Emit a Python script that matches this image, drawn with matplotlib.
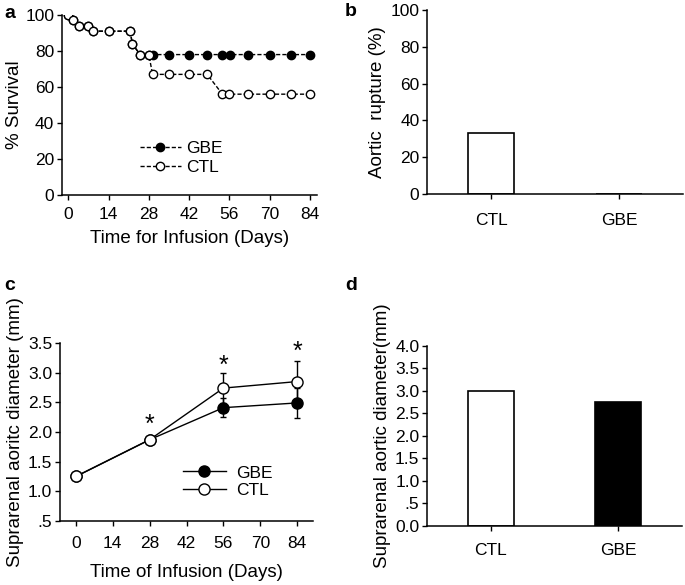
import matplotlib
matplotlib.use("Agg")
import matplotlib.pyplot as plt
from matplotlib.lines import Line2D

plt.rcParams['font.family'] = ['Liberation Sans', 'DejaVu Sans']

# Panel a: survival
ctl_days = [0, 1.7, 3.8, 7, 8.5, 14, 21.6, 22.2, 25, 28, 29.3, 35, 42, 48.3, 53.6, 56, 62.6, 70, 77.4, 84]
ctl_surv = [100, 97, 94, 94, 91, 91, 91, 84, 78, 78, 67, 67, 67, 67, 56, 56, 56, 56, 56, 56]
gbe_days = [0, 1.7, 3.8, 7, 8.5, 14, 21.6, 22.2, 25, 28, 29.5, 35, 42, 48.3, 53.4, 56.2, 62.6, 70, 77.4, 84]
gbe_surv = [100, 97, 94, 94, 91, 91, 91, 84, 78, 78, 78, 78, 78, 78, 78, 78, 78, 78, 78, 78]

# Panel b: rupture
rupture_groups = ["CTL", "GBE"]
rupture_vals = [33, 0]

# Panel c: diameter over time
diam_days = [0, 28, 56, 84]
gbe_diam = [1.25, 1.87, 2.41, 2.49]
gbe_err = [0.02, 0.05, 0.16, 0.25]
ctl_diam = [1.25, 1.87, 2.74, 2.85]
ctl_err = [0.02, 0.06, 0.25, 0.35]
star_days = [28, 56, 84]
star_y = [2.12, 3.12, 3.35]

# Panel d: final diameter
diam_groups = ["CTL", "GBE"]
diam_final = [3.0, 2.76]

TICK_FS = 12.5
LAB_FS = 13.5

fig = plt.figure(figsize=(6.85, 5.85), dpi=100)

def style(ax):
    for s in ['top', 'right']:
        ax.spines[s].set_visible(False)
    for s in ['left', 'bottom']:
        ax.spines[s].set_linewidth(1.1)
    ax.tick_params(direction='out', length=3.5, width=1.0, labelsize=TICK_FS, pad=2)

# a
axa = fig.add_axes([0.0905, 0.6667, 0.3723, 0.3077])
style(axa)
dash = (0, (3, 1.5))
axa.plot(gbe_days, gbe_surv, color='black', lw=1.0, linestyle=dash, marker='o', ms=6,
         mfc='black', mec='black', label='GBE', zorder=3)
axa.plot(ctl_days, ctl_surv, color='black', lw=1.0, linestyle=dash, marker='o', ms=6,
         mfc='white', mec='black', mew=1.0, label='CTL', zorder=4)
axa.set_xlim(-2.2, 86.5)
axa.set_ylim(0, 100)
axa.set_xticks([0, 14, 28, 42, 56, 70, 84])
axa.set_yticks([0, 20, 40, 60, 80, 100])
axa.tick_params(axis='x', pad=5)
axa.set_xlabel('Time for Infusion (Days)', fontsize=LAB_FS, labelpad=6)
axa.set_ylabel('% Survival', fontsize=LAB_FS, labelpad=2)
axa.legend(loc='center left', bbox_to_anchor=(0.27, 0.205), frameon=False, fontsize=TICK_FS,
           handlelength=2.4, handletextpad=0.3, labelspacing=0.25, borderpad=0)

# b
axb = fig.add_axes([0.6234, 0.6684, 0.3736, 0.3146])
style(axb)
axb.bar([0, 1], rupture_vals, width=0.355, color=['white', 'black'], edgecolor='black', linewidth=1.2)
axb.set_xlim(-0.5, 1.5)
axb.set_ylim(0, 100)
axb.set_xticks([0, 1])
axb.set_xticklabels(rupture_groups)
axb.set_yticks([0, 20, 40, 60, 80, 100])
axb.tick_params(axis='x', pad=10)
axb.set_ylabel('Aortic  rupture (%)', fontsize=LAB_FS, labelpad=3)

# c
axc = fig.add_axes([0.0876, 0.1094, 0.3694, 0.3043])
style(axc)
axc.errorbar(diam_days, gbe_diam, yerr=gbe_err, color='black', lw=1.0, marker='o', ms=8,
             mfc='black', mec='black', capsize=2.5, elinewidth=1.0, capthick=1.0,
             label='GBE', zorder=3)
axc.errorbar(diam_days, ctl_diam, yerr=ctl_err, color='black', lw=1.0, marker='o', ms=8,
             mfc='white', mec='black', mew=1.0, capsize=2.5, elinewidth=1.0, capthick=1.0,
             label='CTL', zorder=4)
for d, y in zip(star_days, star_y):
    axc.text(d, y, '*', ha='center', va='center', fontsize=18)
axc.set_xlim(-6, 90)
axc.set_ylim(0.5, 3.5)
axc.set_xticks([0, 14, 28, 42, 56, 70, 84])
axc.set_yticks([0.5, 1.0, 1.5, 2.0, 2.5, 3.0, 3.5])
axc.set_yticklabels(['.5', '1.0', '1.5', '2.0', '2.5', '3.0', '3.5'])
axc.tick_params(axis='x', pad=7)
axc.set_xlabel('Time of Infusion (Days)', fontsize=LAB_FS, labelpad=10)
axc.set_ylabel('Suprarenal aoritc diameter (mm)', fontsize=LAB_FS, labelpad=3)
handles = [Line2D([], [], color='black', lw=1.0, marker='o', ms=8, mfc='black', mec='black'),
           Line2D([], [], color='black', lw=1.0, marker='o', ms=8, mfc='white', mec='black')]
axc.legend(handles, ['GBE', 'CTL'], loc='center left', bbox_to_anchor=(0.45, 0.22), frameon=False,
           fontsize=TICK_FS, handlelength=2.5, handletextpad=0.6, labelspacing=0.15, borderpad=0)

# d
axd = fig.add_axes([0.6234, 0.1009, 0.3722, 0.3077])
style(axd)
axd.bar([0, 1], diam_final, width=0.36, color=['white', 'black'], edgecolor='black', linewidth=1.2)
axd.set_xlim(-0.5, 1.5)
axd.set_ylim(0, 4.0)
axd.set_xticks([0, 1])
axd.set_xticklabels(diam_groups)
axd.set_yticks([0, 0.5, 1.0, 1.5, 2.0, 2.5, 3.0, 3.5, 4.0])
axd.set_yticklabels(['0.0', '.5', '1.0', '1.5', '2.0', '2.5', '3.0', '3.5', '4.0'])
axd.tick_params(axis='x', pad=9)
axd.set_ylabel('Suprarenal aortic diameter(mm)', fontsize=LAB_FS, labelpad=3)

# panel letters
fig.text(4 / 685, 1 - 13 / 585, 'a', fontsize=14, fontweight='bold', va='center')
fig.text(345 / 685, 1 - 12 / 585, 'b', fontsize=14, fontweight='bold', va='center')
fig.text(4 / 685, 1 - 286 / 585, 'c', fontsize=14, fontweight='bold', va='center')
fig.text(345 / 685, 1 - 286 / 585, 'd', fontsize=14, fontweight='bold', va='center')

fig.savefig('out.png', dpi=100)
